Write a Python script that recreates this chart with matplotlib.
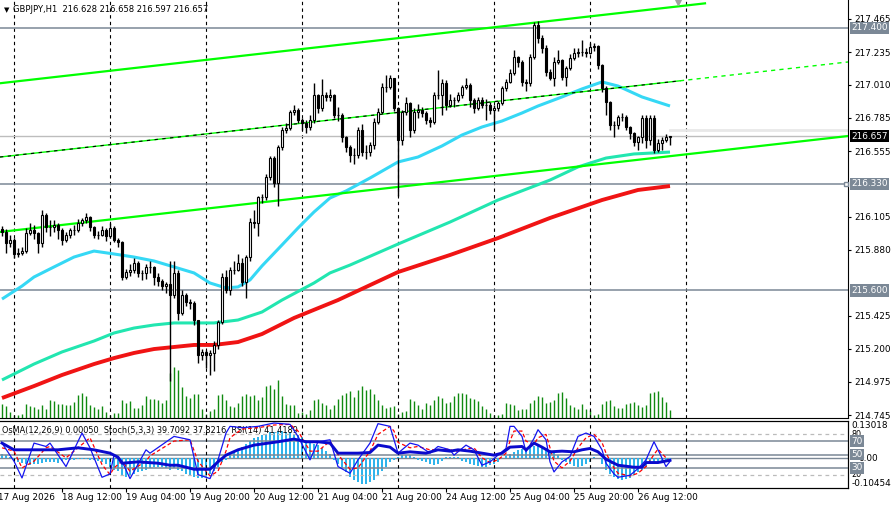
import numpy as np
import matplotlib.pyplot as plt

plt.rcParams['font.family'] = ['DejaVu Sans']

# GBPJPY H1 bars (bar 0 = first visible bar)
first_open = 216.020
close = [216.001, 215.925, 215.946, 215.850, 215.857, 215.870, 215.994, 216.014, 215.994, 215.925,
         216.117, 216.035, 216.035, 216.049, 216.014, 215.946, 215.980, 216.014, 216.014, 216.062,
         216.083, 216.104, 216.035, 215.980, 215.980, 216.014, 215.973, 216.028, 215.946, 215.932,
         215.692, 215.726, 215.740, 215.788, 215.720, 215.720, 215.761, 215.761, 215.692, 215.665,
         215.630, 215.644, 215.569, 215.720, 215.445, 215.569, 215.521, 215.514, 215.397, 215.157,
         215.178, 215.157, 215.171, 215.226, 215.383, 215.692, 215.603, 215.740, 215.740, 215.788,
         215.658, 215.829, 216.069, 216.062, 216.241, 216.241, 216.378, 216.508, 216.337, 216.584,
         216.700, 216.714, 216.824, 216.837, 216.769, 216.748, 216.721, 216.769, 216.940, 216.851,
         216.940, 216.927, 216.940, 216.803, 216.803, 216.652, 216.584, 216.529, 216.529, 216.700,
         216.549, 216.549, 216.597, 216.755, 216.824, 216.995, 216.995, 217.057, 216.851, 216.632,
         216.824, 216.885, 216.700, 216.824, 216.837, 216.817, 216.769, 216.755, 216.940, 216.940,
         217.023, 216.872, 216.906, 216.906, 216.940, 216.995, 217.009, 216.906, 216.851, 216.906,
         216.872, 216.872, 216.837, 216.851, 216.885, 216.988, 217.030, 217.091, 217.201, 217.167,
         217.030, 217.023, 217.201, 217.421, 217.331, 217.263, 217.098, 217.057, 217.167, 217.180,
         217.064, 217.126, 217.194, 217.228, 217.235, 217.235, 217.228, 217.270, 217.276, 217.146,
         216.988, 216.892, 216.735, 216.735, 216.789, 216.789, 216.721, 216.680, 216.618, 216.652,
         216.783, 216.632, 216.783, 216.563, 216.611, 216.632, 216.652, 216.657]
high = [216.04, 216.02, 215.98, 215.96, 215.89, 215.90, 216.03, 216.06, 216.05, 216.00,
        216.15, 216.13, 216.08, 216.08, 216.06, 216.03, 216.00, 216.03, 216.05, 216.09,
        216.10, 216.13, 216.11, 216.04, 216.01, 216.04, 216.03, 216.06, 216.04, 215.96,
        215.94, 215.75, 215.78, 215.82, 215.80, 215.74, 215.78, 215.80, 215.77, 215.72,
        215.68, 215.66, 215.80, 215.80, 215.74, 215.60, 215.58, 215.54, 215.53, 215.40,
        215.20, 215.19, 215.19, 215.25, 215.40, 215.72, 215.74, 215.76, 215.80, 215.85,
        215.82, 215.84, 216.10, 216.15, 216.25, 216.26, 216.40, 216.52, 216.52, 216.60,
        216.72, 216.75, 216.84, 216.87, 216.85, 216.78, 216.77, 216.80, 217.02, 216.95,
        217.05, 216.96, 216.98, 216.95, 216.86, 216.82, 216.66, 216.60, 216.58, 216.72,
        216.74, 216.60, 216.62, 216.78, 216.85, 217.02, 217.08, 217.08, 217.06, 216.86,
        216.84, 216.93, 216.89, 216.85, 216.88, 216.86, 216.83, 216.79, 216.96, 217.11,
        217.05, 217.04, 216.95, 216.93, 216.96, 217.01, 217.06, 217.02, 216.92, 216.93,
        216.93, 216.91, 216.89, 216.87, 216.90, 217.00, 217.05, 217.12, 217.25, 217.21,
        217.18, 217.05, 217.22, 217.44, 217.45, 217.35, 217.28, 217.12, 217.20, 217.25,
        217.19, 217.14, 217.22, 217.26, 217.26, 217.32, 217.26, 217.30, 217.30, 217.28,
        217.15, 217.00, 216.90, 216.76, 216.80, 216.82, 216.80, 216.73, 216.69, 216.66,
        216.80, 216.80, 216.80, 216.80, 216.64, 216.65, 216.67, 216.66]
low = [215.97, 215.86, 215.90, 215.82, 215.83, 215.84, 215.86, 215.98, 215.95, 215.86,
       215.90, 216.00, 215.97, 216.00, 215.95, 215.91, 215.93, 215.96, 215.98, 216.00,
       216.04, 216.06, 216.01, 215.96, 215.95, 215.97, 215.94, 215.96, 215.93, 215.90,
       215.67, 215.68, 215.70, 215.72, 215.69, 215.67, 215.68, 215.72, 215.64, 215.63,
       215.60, 215.58, 214.98, 215.55, 215.40, 215.43, 215.49, 215.47, 215.36, 215.10,
       215.12, 215.07, 215.02, 215.05, 215.20, 215.37, 215.58, 215.57, 215.71, 215.73,
       215.63, 215.55, 215.80, 216.03, 215.97, 216.20, 216.22, 216.36, 216.31, 216.18,
       216.56, 216.68, 216.70, 216.80, 216.75, 216.70, 216.68, 216.70, 216.75, 216.82,
       216.83, 216.90, 216.90, 216.78, 216.76, 216.62, 216.55, 216.48, 216.47, 216.51,
       216.52, 216.50, 216.52, 216.57, 216.74, 216.81, 216.96, 216.98, 216.83, 216.25,
       216.60, 216.80, 216.65, 216.68, 216.78, 216.79, 216.74, 216.72, 216.74, 216.91,
       216.80, 216.84, 216.86, 216.86, 216.89, 216.92, 216.98, 216.86, 216.82, 216.84,
       216.85, 216.77, 216.81, 216.70, 216.83, 216.87, 216.97, 217.02, 217.08, 217.13,
       217.00, 216.97, 217.00, 217.19, 217.30, 217.23, 217.07, 217.04, 217.00, 217.15,
       217.04, 217.00, 217.11, 217.18, 217.20, 217.21, 217.20, 217.22, 217.24, 217.12,
       216.96, 216.80, 216.70, 216.65, 216.71, 216.76, 216.70, 216.64, 216.59, 216.56,
       216.61, 216.58, 216.60, 216.54, 216.55, 216.56, 216.62, 216.60]
volume = [14, 12, 6, 3, 3, 4, 14, 12, 11, 9,
          13, 9, 18, 17, 14, 14, 13, 13, 16, 23,
          25, 22, 13, 11, 9, 12, 6, 3, 5, 5,
          18, 15, 17, 10, 10, 13, 22, 19, 19, 18,
          15, 18, 45, 51, 48, 31, 22, 20, 24, 24,
          9, 4, 7, 9, 23, 24, 18, 12, 11, 15,
          22, 24, 22, 23, 18, 21, 32, 33, 29, 38,
          22, 14, 13, 13, 5, 6, 4, 8, 18, 19,
          15, 13, 9, 13, 19, 23, 25, 27, 21, 28,
          32, 28, 29, 24, 18, 13, 10, 11, 12, 4,
          6, 7, 19, 17, 13, 9, 15, 13, 18, 22,
          20, 15, 16, 22, 25, 25, 24, 20, 19, 17,
          12, 9, 5, 3, 3, 4, 15, 14, 13, 8,
          9, 9, 15, 18, 22, 21, 15, 16, 18, 25,
          26, 20, 13, 11, 9, 14, 9, 8, 3, 4,
          14, 17, 18, 12, 10, 10, 14, 15, 16, 13,
          11, 13, 25, 26, 27, 21, 16, 8]

# moving averages, read at some bars
ma_fast_bars = [0, 5, 8, 13, 18, 23, 28, 33, 38, 43, 48, 52, 56, 59, 62, 65, 70, 74, 78, 82,
                86, 92, 99, 104, 110, 115, 120, 125, 130, 134, 140, 145, 150, 154, 160, 167]
ma_fast = [215.541, 215.630, 215.692, 215.761, 215.829, 215.870, 215.850, 215.829, 215.802, 215.761,
           215.720, 215.651, 215.617, 215.624, 215.672, 215.768, 215.912, 216.028, 216.138, 216.234,
           216.282, 216.371, 216.481, 216.515, 216.591, 216.666, 216.721, 216.762, 216.817, 216.865,
           216.927, 216.982, 217.030, 217.002, 216.927, 216.865]
ma_mid_bars = [0, 8, 15, 23, 28, 33, 38, 43, 48, 53, 59, 65, 70, 78, 82, 87, 99, 112, 124, 137,
               144, 151, 158, 167]
ma_mid = [214.986, 215.095, 215.178, 215.253, 215.308, 215.342, 215.363, 215.377, 215.377, 215.377,
          215.397, 215.452, 215.534, 215.651, 215.720, 215.774, 215.918, 216.069, 216.220, 216.357,
          216.447, 216.508, 216.536, 216.549]
ma_slow_bars = [0, 8, 15, 23, 28, 33, 38, 43, 48, 53, 59, 65, 73, 84, 99, 112, 124, 137, 150, 159, 167]
ma_slow = [214.862, 214.944, 215.020, 215.095, 215.136, 215.171, 215.198, 215.212, 215.226, 215.226,
           215.246, 215.301, 215.411, 215.534, 215.726, 215.843, 215.959, 216.097, 216.220, 216.289,
           216.316]

# trend channel anchors (bar, price)
chan_upper = ([-0.5, 175.75], [217.021, 217.569])
chan_mid = ([-0.5, 211.5], [216.515, 217.167])
chan_mid_end = 169.5
chan_lower = ([-0.5, 211.5], [216.001, 216.659])
levels = [217.400, 216.330, 215.600]
last_price = 216.657
ask_price = 216.700

# oscillators
osma = [0.015, 0.012, 0.005,
        -0.005, -0.012, -0.018, -0.022, -0.024, -0.022, -0.020, -0.016, -0.012, -0.012, -0.015, -0.018,
        -0.010, -0.008, -0.006, -0.005, -0.004, -0.003, -0.004, -0.006, -0.008, -0.010,
        -0.015, -0.020, -0.030, -0.040,
        -0.045, -0.060, -0.065, -0.060, -0.055, -0.050, -0.045, -0.040, -0.035, -0.030,
        -0.030, -0.030, -0.035, -0.040, -0.035, -0.040, -0.045,
        -0.055, -0.060, -0.065, -0.070, -0.070, -0.065, -0.055, -0.045,
        -0.030, -0.015, -0.005,
        0.010, 0.020, 0.030, 0.040, 0.050, 0.060, 0.070, 0.075, 0.080, 0.085, 0.090, 0.090, 0.095,
        0.095, 0.090, 0.090, 0.085, 0.080, 0.075,
        0.065, 0.060, 0.050, 0.045, 0.035, 0.025, 0.015,
        -0.005, -0.020, -0.035, -0.050, -0.065, -0.075, -0.085, -0.090, -0.090, -0.085, -0.075,
        -0.060, -0.045, -0.030, -0.015, -0.005,
        0.005, 0.010, 0.012, 0.010, 0.005, -0.005, -0.010, -0.015, -0.020, -0.025, -0.020,
        -0.010, 0.003, 0.005, 0.005, 0.003,
        -0.010, -0.015, -0.020, -0.025, -0.028, -0.030, -0.030, -0.025, -0.020, -0.012,
        0.000, 0.008, 0.015, 0.022, 0.028, 0.032, 0.035, 0.038, 0.042, 0.045, 0.040, 0.035, 0.028, 0.020,
        0.010, -0.005, -0.015, -0.022, -0.028, -0.030, -0.028, -0.020, -0.012, 0.003, 0.000,
        -0.020, -0.040, -0.055, -0.065, -0.072, -0.075, -0.072, -0.068, -0.060, -0.050, -0.040, -0.030,
        -0.020, -0.015, -0.012, -0.010, -0.008, -0.006]
osma_top, osma_bottom = 0.13018, -0.10454

rsi_bars = [0, 3, 7, 14, 19, 23, 27, 29, 30, 34, 39, 42, 44, 48, 52, 54, 56, 59, 63, 69,
            73, 76, 79, 82, 84, 89, 92, 94, 97, 99, 102, 106, 109, 112, 114, 117, 120, 123, 125, 127,
            130, 131, 133, 135, 137, 140, 143, 145, 147, 149, 151, 154, 158, 160, 161, 164, 167]
rsi = [67, 57, 57, 57, 60, 57, 52, 46, 37, 39, 37, 34, 34, 28, 28, 39, 49, 57, 64, 69,
       73, 69, 69, 67, 52, 52, 53, 64, 61, 52, 54, 52, 57, 55, 57, 55, 52, 49, 52, 61,
       62, 57, 67, 61, 54, 55, 54, 57, 59, 54, 43, 34, 31, 31, 38, 38, 41.4]

stoch_bars = [0, 3, 5, 8, 11, 12, 16, 20, 22, 25, 27, 28, 30, 32, 36, 37, 43, 47, 49, 52,
              54, 56, 57, 60, 64, 68, 72, 74, 77, 79, 82, 84, 87, 89, 92, 94, 97, 98, 99, 102,
              104, 107, 109, 112, 113, 116, 118, 120, 122, 124, 126, 127, 128, 130, 131, 133, 134, 136, 137, 138,
              140, 142, 144, 146, 148, 150, 151, 153, 154, 157, 159, 161, 163, 164, 166, 167]
stoch_main = [67, 40, 15, 67, 62, 67, 32, 82, 60, 16, 21, 49, 40, 14, 57, 52, 77, 72, 20, 14,
              42, 82, 92, 90, 92, 97, 95, 77, 42, 69, 72, 32, 22, 42, 67, 96, 92, 72, 52, 67,
              64, 52, 62, 57, 49, 64, 57, 34, 39, 49, 59, 92, 92, 77, 54, 74, 87, 72, 39, 24,
              39, 47, 77, 82, 77, 57, 37, 21, 16, 19, 29, 42, 69, 57, 32, 39.7]
stoch_signal = [60, 55, 30, 40, 60, 62, 45, 65, 75, 35, 20, 30, 40, 25, 40, 48, 70, 72, 40, 18,
                25, 55, 75, 88, 90, 94, 95, 85, 55, 55, 70, 50, 28, 30, 55, 80, 92, 85, 68, 60,
                62, 57, 57, 58, 54, 58, 60, 45, 38, 42, 52, 70, 85, 85, 70, 65, 75, 80, 60, 40,
                30, 40, 60, 75, 80, 68, 52, 30, 22, 18, 22, 32, 50, 58, 45, 37.8]
stoch_levels = [80, 70, 50, 30, 20]

time_labels = ['17 Aug 2026', '18 Aug 12:00', '19 Aug 04:00', '19 Aug 20:00', '20 Aug 12:00',
               '21 Aug 04:00', '21 Aug 20:00', '24 Aug 12:00', '25 Aug 04:00', '25 Aug 20:00',
               '26 Aug 12:00']
label_bars = [-1, 15, 31, 47, 63, 79, 95, 111, 127, 143, 159]
grid_bars = [3, 27, 51, 75, 99, 123, 147, 171]

W, H = 891, 508
fig = plt.figure(figsize=(W / 100, H / 100), dpi=100)
fig.patch.set_facecolor('white')

xlim = (-0.5, 211.5)
level_col = '#7B8896'
fs = 6.4

# ---- main price window ----
axv = fig.add_axes([0, 90 / H, 848 / W, 418 / H])
ax = fig.add_axes([0, 90 / H, 848 / W, 418 / H], sharex=axv)
ax.patch.set_visible(False)
axv.set_ylim(0, 418)
axv.axis('off')
x = np.arange(len(close))
axv.vlines(x, 0, volume, color='#108A10', lw=1.0)

ax.set_xlim(*xlim)
ax.set_ylim(214.725, 217.592)

for b in grid_bars:
    ax.axvline(b, color='black', lw=0.8, ls=(0, (3, 3)), zorder=1)

for lv in levels:
    ax.axhline(lv, color=level_col, lw=1.1, zorder=2)
ax.axhline(last_price, color='#BDBDBD', lw=1, zorder=2)
ax.plot([x[-1], xlim[1]], [ask_price, ask_price], color='#E8E8E8', lw=2, zorder=2)

ax.plot(ma_slow_bars, ma_slow, color='#F01414', lw=2.8, zorder=3, solid_capstyle='butt')
ax.plot(ma_mid_bars, ma_mid, color='#22E6B0', lw=2.2, zorder=3, solid_capstyle='butt')
ax.plot(ma_fast_bars, ma_fast, color='#35D8F5', lw=2.2, zorder=3, solid_capstyle='butt')

ax.plot(*chan_upper, color='#00FF00', lw=1.6, zorder=4)
ax.plot(*chan_lower, color='#00FF00', lw=1.6, zorder=4)
mx = np.array(chan_mid[0])
my = np.array(chan_mid[1])
mid_at_end = np.interp(chan_mid_end, mx, my)
ax.plot([mx[0], chan_mid_end], [my[0], mid_at_end], color='#00FF00', lw=1, zorder=4)
ax.plot([mx[0], chan_mid_end], [my[0], mid_at_end], color='black', lw=0.8, ls=(0, (3, 4)), zorder=4)
ax.plot([chan_mid_end, mx[1]], [mid_at_end, my[1]], color='#00FF00', lw=1, ls=(0, (3, 3)), zorder=4)

# candles
o = np.array([first_open] + close[:-1])
c = np.array(close)
up = c >= o
ax.vlines(x, low, high, color='black', lw=1, zorder=5)
ax.bar(x[up], (c - o)[up], bottom=o[up], width=0.6, color='white', edgecolor='black', lw=0.8, zorder=6)
ax.bar(x[~up], (o - c)[~up], bottom=c[~up], width=0.6, color='black', edgecolor='black', lw=0.8, zorder=6)

ax.plot([169], [217.578], marker='v', ms=5, color='#A0A0A0', zorder=7, clip_on=False)
ax.plot([xlim[1] - 0.4], [levels[1]], marker='s', ms=3.5, mfc='white', mec=level_col, zorder=7, clip_on=False)

price_ticks = [217.465, 217.235, 217.010, 216.785, 216.555, 216.105, 215.880,
               215.425, 215.200, 214.975, 214.745]
ax.yaxis.tick_right()
ax.set_yticks(price_ticks)
ax.set_yticklabels([f'{p:.3f}' for p in price_ticks])
ax.tick_params(axis='y', length=2.5, pad=2, labelsize=fs, colors='black')
ax.tick_params(axis='x', bottom=False, labelbottom=False)
for s in ['left', 'top']:
    ax.spines[s].set_visible(False)

ytr = ax.get_yaxis_transform()
for lv in levels:
    ax.text(1.004, lv, f'{lv:.3f}', transform=ytr, ha='left', va='center', fontsize=fs,
            color='white', zorder=10, clip_on=False,
            bbox=dict(boxstyle='square,pad=0.18', fc=level_col, ec='none'))
ax.text(1.004, last_price, f'{last_price:.3f}', transform=ytr, ha='left', va='center', fontsize=fs,
        color='white', zorder=10, clip_on=False,
        bbox=dict(boxstyle='square,pad=0.18', fc='black', ec='none'))

fig.text(4 / W, 1 - 10 / H, '\u25BC', fontsize=5, va='center', ha='left')
fig.text(13 / W, 1 - 10 / H, 'GBPJPY,H1  216.628 216.658 216.597 216.657', fontsize=6.0,
         va='center', ha='left')

# ---- indicator window ----
axo = fig.add_axes([0, 20 / H, 848 / W, 67 / H])
axo.set_xlim(*xlim)
axo.set_ylim(osma_bottom, osma_top)
axo.bar(x, osma, width=0.7, color='#2FB4EC', zorder=2)
axo.axhline(0, color=level_col, lw=1, zorder=1)
axs = axo.twinx()
axs.set_ylim(0, 100)
for lv in stoch_levels:
    if lv in (80, 20):
        axs.axhline(lv, color='#BBBBBB', lw=0.9, ls=(0, (3, 3)), zorder=1)
    else:
        axs.axhline(lv, color=level_col, lw=1.1, zorder=1)
for b in grid_bars:
    axs.axvline(b, color='black', lw=0.8, ls=(0, (3, 3)), zorder=1)
axs.plot(stoch_bars, stoch_signal, color='red', lw=0.9, ls=(0, (3, 2)), zorder=3)
axs.plot(stoch_bars, stoch_main, color='#1414F0', lw=0.9, zorder=4)
axs.plot(rsi_bars, rsi, color='#0A0ACD', lw=2.1, zorder=5)

for a in (axo, axs):
    a.spines['left'].set_visible(False)
    a.tick_params(axis='y', right=False, labelright=False, left=False, labelleft=False)
axs.tick_params(axis='x', bottom=False, labelbottom=False)
axo.set_xticks(label_bars[1:])
axo.set_xticklabels([])
axo.tick_params(axis='x', length=3, color='black', direction='out')

otr = axo.get_yaxis_transform()
str_ = axs.get_yaxis_transform()
axo.text(1.004, osma_top, f'{osma_top:.5f}', transform=otr, ha='left', va='top', fontsize=fs, clip_on=False)
axo.text(1.004, osma_bottom, f'{osma_bottom:.5f}', transform=otr, ha='left', va='bottom', fontsize=fs,
         clip_on=False)
axo.text(1.012, 0, '0.00', transform=otr, ha='left', va='center', fontsize=fs, clip_on=False)
for lv in stoch_levels:
    if lv in (80, 20):
        axs.text(1.004, lv, str(lv), transform=str_, ha='left', va='center', fontsize=fs - 0.6,
                 clip_on=False, zorder=8)
    else:
        axs.text(1.004, lv, str(lv), transform=str_, ha='left', va='center', fontsize=fs,
                 color='white', clip_on=False, zorder=9,
                 bbox=dict(boxstyle='square,pad=0.15', fc=level_col, ec='none'))

axo.text(2 / 848, 0.86, 'OsMA(12,26,9) 0.00050  Stoch(5,3,3) 39.7092 37.8216  RSI(14) 41.4189',
         transform=axo.transAxes, fontsize=5.9, ha='left', va='center', zorder=10)

xtr = axo.get_xaxis_transform()
for b, lbl in zip(label_bars, time_labels):
    axo.text(b, -0.14, lbl, transform=xtr, ha='left', va='center', fontsize=fs, clip_on=False)

fig.savefig('out.png', dpi=100)
